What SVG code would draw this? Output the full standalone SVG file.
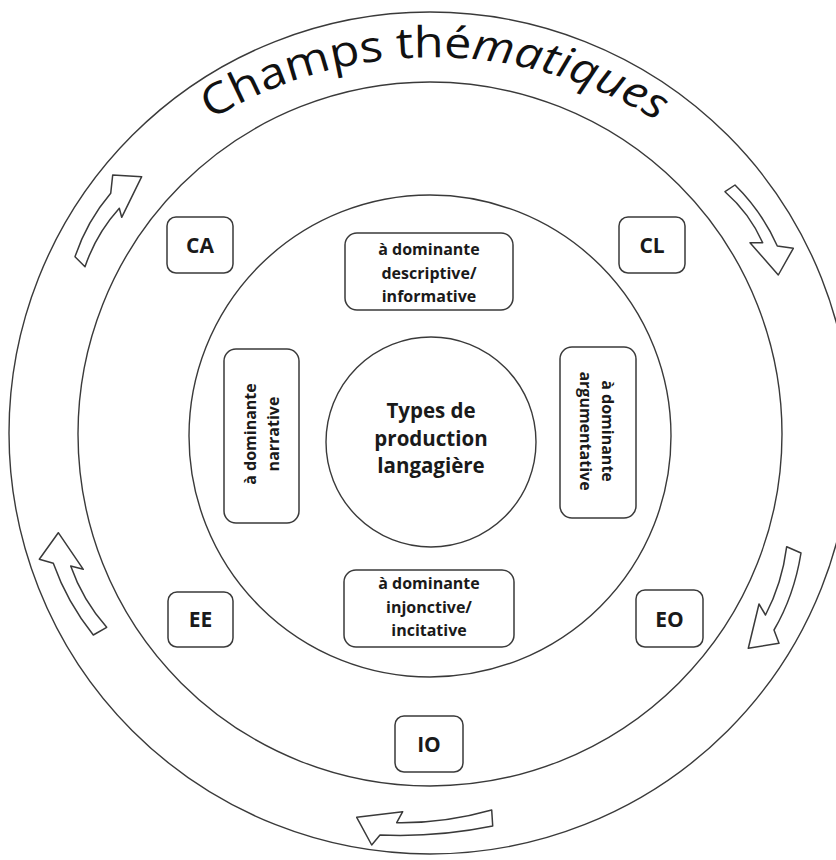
<svg xmlns="http://www.w3.org/2000/svg" width="836" height="860" viewBox="0 0 836 860">
  <defs>
    <style>
      .ring { fill: none; stroke: #3a3a3a; stroke-width: 1.4; }
      .box { fill: #fff; stroke: #3a3a3a; stroke-width: 1.5; }
      .lbl { font-family: "Open Sans", "Liberation Sans", sans-serif; font-weight: bold; fill: #1a1a1a; text-anchor: middle; }
      .small { font-size: 16px; }
      .code { font-size: 21px; }
      .core { font-size: 20.5px; }
      .flow { fill: #fff; stroke: #3a3a3a; stroke-width: 1.5; stroke-linejoin: round; }
      .title { font-family: "Open Sans", "Liberation Sans", sans-serif; font-size: 43px; fill: #111; }
    </style>
    <path id="titleArc" d="M 28 440 A 400 378 0 0 1 838 440" fill="none"/>
  </defs>

  <rect width="836" height="860" fill="#fff"/>

  <!-- concentric rings -->
  <g id="rings">
    <circle class="ring" cx="430" cy="433" r="421"/>
    <circle class="ring" cx="430" cy="434" r="352"/>
    <circle class="ring" cx="430" cy="436" r="241"/>
  </g>

  <!-- curved title in the outer band -->
  <g id="title">
    <text class="title"><textPath href="#titleArc" startOffset="385" textLength="470" lengthAdjust="spacingAndGlyphs">Champs thé<tspan font-style="italic">matiques</tspan></textPath></text>
  </g>

  <!-- clockwise cycle arrows -->
  <g id="connectors">
    <path class="flow" d="M 75,256.7 Q 86.9,221.3 110.7,193.3 L 112.7,175 L 141.7,176.7 L 121.7,217.3 L 119.3,208.3 Q 96.2,233.9 85,266.7 Z"/>
    <path class="flow" d="M 735,185 Q 762,211.6 777.3,246 L 793.3,248.3 L 778.3,275 L 750,242.7 L 762.7,242.7 Q 749.6,213.2 725,191.7 Z"/>
    <path class="flow" d="M 801,553 Q 794,596 774,630 L 779,643.3 L 748.3,648.3 L 759,604 L 765.5,615 Q 782,583.6 786.7,546.7 Z"/>
    <path class="flow" d="M 491.7,810 Q 444.5,823.4 396.7,822.7 L 402.7,811.7 L 356.7,817.3 L 371.7,845 L 380,835 Q 436.5,837.5 492.7,826 Z"/>
    <path class="flow" d="M 93.3,635 Q 67,602.1 53.3,563.3 L 39.3,559.3 L 58.3,532.7 L 83.3,569.3 L 70.7,566 Q 82.4,599.7 106.7,627.3 Z"/>
  </g>

  <!-- centre -->
  <g id="types-production">
    <circle class="ring" cx="431" cy="442" r="105"/>
    <text class="lbl core" x="431" y="418">Types de</text>
    <text class="lbl core" x="431" y="446">production</text>
    <text class="lbl core" x="431" y="473">langagière</text>
  </g>

  <!-- dominant text types -->
  <g id="descriptive">
    <rect class="box" x="345" y="233" width="168" height="77" rx="12"/>
    <text class="lbl small" x="429" y="255">à dominante</text>
    <text class="lbl small" x="429" y="279">descriptive/</text>
    <text class="lbl small" x="429" y="302">informative</text>
  </g>
  <g id="injonctive">
    <rect class="box" x="344" y="570" width="170" height="77" rx="12"/>
    <text class="lbl small" x="429" y="589">à dominante</text>
    <text class="lbl small" x="429" y="613">injonctive/</text>
    <text class="lbl small" x="429" y="636">incitative</text>
  </g>
  <g id="narrative">
    <rect class="box" x="224" y="349" width="75" height="174" rx="12"/>
    <g transform="translate(261.5,436) rotate(-90)">
      <text class="lbl small" x="2" y="-5.5">à dominante</text>
      <text class="lbl small" x="2" y="17.5">narrative</text>
    </g>
  </g>
  <g id="argumentative">
    <rect class="box" x="560" y="347" width="76" height="171" rx="12"/>
    <g transform="translate(598,431) rotate(90)">
      <text class="lbl small" x="0" y="-3.7">à dominante</text>
      <text class="lbl small" x="0" y="18">argumentative</text>
    </g>
  </g>

  <!-- skill boxes -->
  <g id="CA">
    <rect class="box" x="167" y="217" width="66" height="56" rx="9"/>
    <text class="lbl code" x="200" y="253">CA</text>
  </g>
  <g id="CL">
    <rect class="box" x="619" y="217" width="66" height="56" rx="9"/>
    <text class="lbl code" x="652" y="253">CL</text>
  </g>
  <g id="EE">
    <rect class="box" x="168" y="592" width="65" height="55" rx="9"/>
    <text class="lbl code" x="200.5" y="627">EE</text>
  </g>
  <g id="EO">
    <rect class="box" x="636" y="590" width="67" height="57" rx="9"/>
    <text class="lbl code" x="669.5" y="627">EO</text>
  </g>
  <g id="IO">
    <rect class="box" x="395" y="716" width="68" height="56" rx="9"/>
    <text class="lbl code" x="429" y="752">IO</text>
  </g>
</svg>
